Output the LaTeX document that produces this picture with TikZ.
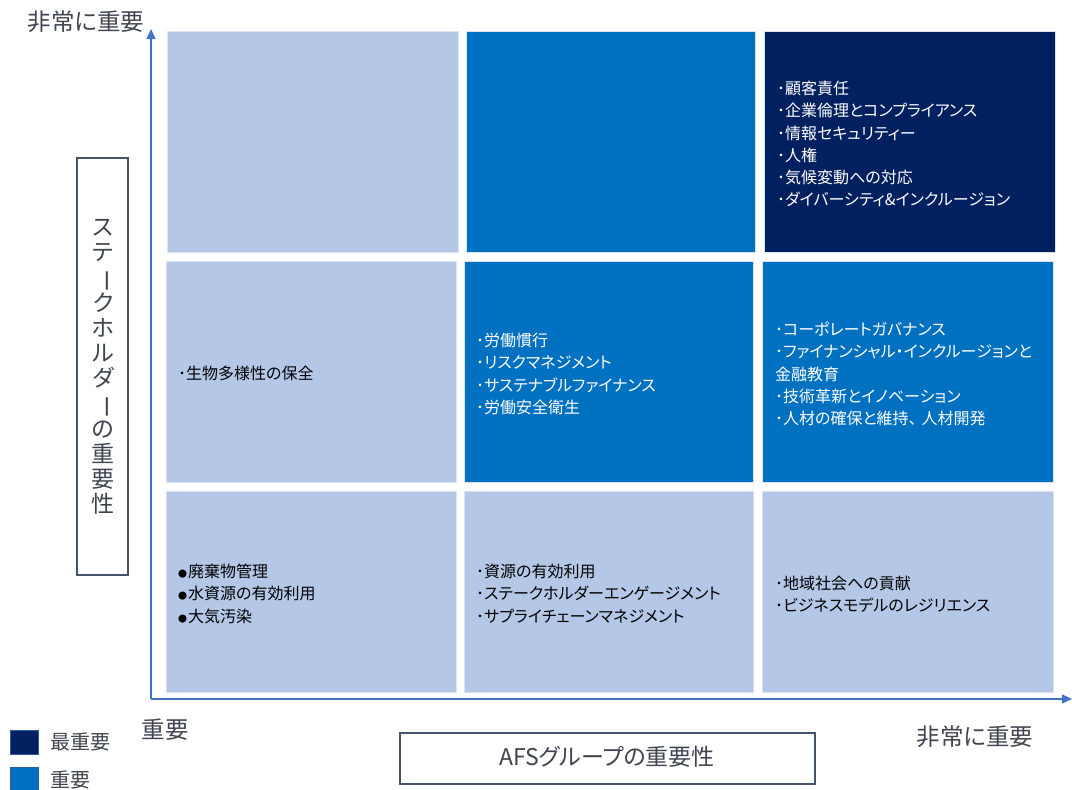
\documentclass[tikz,border=0pt]{standalone}
\usepackage{fontspec}
\setmainfont{Noto Sans CJK JP}[RawFeature=+palt]
\usetikzlibrary{arrows.meta}
\definecolor{lightc}{HTML}{B4C7E7}
\definecolor{midc}{HTML}{0070C0}
\definecolor{darkc}{HTML}{002060}
\definecolor{axisc}{HTML}{4472C4}
\definecolor{txtc}{HTML}{3F4450}
\definecolor{framec}{HTML}{44546A}
\definecolor{edgec}{HTML}{DAE3F3}
\newcommand{\bigdot}{{\fontsize{9}{9}\selectfont ●}\hspace{1pt}}
\begin{document}
\begin{tikzpicture}[x=1pt,y=-1pt,
  cell/.style={anchor=north west, inner sep=0pt, draw=edgec, line width=0.8pt},
  celltext/.style={anchor=north west, inner sep=0pt, align=left, font=\fontsize{16}{22.2}\selectfont},
  axisline/.style={draw=axisc, line width=1.3pt, -{Triangle[length=10pt,width=9pt]}},
  label/.style={inner sep=0pt, text=txtc, font=\fontsize{23.5}{25}\selectfont},
  framebox/.style={draw=framec, line width=1.3pt, inner sep=0pt}
]
\useasboundingbox (0,0) rectangle (1072,790);
\fill[white] (0,0) rectangle (1072,790);

% cells
\node[cell, fill=lightc, minimum width=291pt, minimum height=221pt] (c11) at (167,31) {};
\node[cell, fill=midc,   minimum width=289pt, minimum height=221pt] (c12) at (466,31) {};
\node[cell, fill=darkc,  minimum width=291pt, minimum height=221pt] (c13) at (764,31) {};
\node[cell, fill=lightc, minimum width=290pt, minimum height=221pt] (c21) at (166,261) {};
\node[cell, fill=midc,   minimum width=289pt, minimum height=221pt] (c22) at (464,261) {};
\node[cell, fill=midc,   minimum width=291pt, minimum height=221pt] (c23) at (762,261) {};
\node[cell, fill=lightc, minimum width=290pt, minimum height=201pt] (c31) at (166,491) {};
\node[cell, fill=lightc, minimum width=289pt, minimum height=201pt] (c32) at (464,491) {};
\node[cell, fill=lightc, minimum width=291pt, minimum height=201pt] (c33) at (762,491) {};

% cell texts
\node[celltext, text=white] (t13) at (777,81) {･顧客責任\\･企業倫理とコンプライアンス\\･情報セキュリティー\\･人権\\･気候変動への対応\\･ダイバーシティ\&インクルージョン};
\node[celltext, text=black] (t21) at (178,366) {･生物多様性の保全};
\node[celltext, text=white] (t22) at (476,333) {･労働慣行\\･リスクマネジメント\\･サステナブルファイナンス\\･労働安全衛生};
\node[celltext, text=white] (t23) at (775,322) {･コーポレートガバナンス\\･ファイナンシャル・インクルージョンと\\金融教育\\･技術革新とイノベーション\\･人材の確保と維持、\hspace{5pt}人材開発};
\node[celltext, text=black] (t31) at (178,564) {\bigdot 廃棄物管理\\\bigdot 水資源の有効利用\\\bigdot 大気汚染};
\node[celltext, text=black] (t32) at (476,564) {･資源の有効利用\\･ステークホルダーエンゲージメント\\･サプライチェーンマネジメント};
\node[celltext, text=black] (t33) at (775,576) {･地域社会への貢献\\･ビジネスモデルのレジリエンス};

% axes
\coordinate (o) at (151,699);
\coordinate (ytip) at (151,29);
\coordinate (xtip) at (1072,699);
\draw[axisline] (o) -- (ytip);
\draw[axisline] (o) -- (xtip);

% axis labels
\node[label] (ytop) at (86,22) {非常に重要};
\node[label] (xlow) at (165,730) {重要};
\node[label] (xhigh) at (975,737) {非常に重要};

% vertical axis title
\node[framebox, minimum width=51pt, minimum height=417pt] (ybox) at (102.5,366.5) {};
\node[inner sep=0pt, text=txtc, align=center, font=\fontsize{23}{25.2}\selectfont] (ytitle) at (103,367)
  {ス\\テ\\\rotatebox[origin=c]{-90}{ー}\\ク\\ホ\\ル\\ダ\\\rotatebox[origin=c]{-90}{ー}\\の\\重\\要\\性};

% horizontal axis title
\node[framebox, minimum width=415pt, minimum height=51pt] (xbox) at (607.5,758.5) {};
\node[inner sep=0pt, text=txtc, font=\fontsize{23}{25}\selectfont] (xtitle) at (607,757) {AFSグループの重要性};

% legend
\node[anchor=north west, fill=darkc, draw=axisc!70!darkc, line width=0.8pt, minimum width=28pt, minimum height=24pt, inner sep=0pt] (lg1) at (10,730) {};
\node[anchor=north west, fill=midc, draw=axisc!70!darkc, line width=0.8pt, minimum width=28pt, minimum height=24pt, inner sep=0pt] (lg2) at (10,767) {};
\node[anchor=west, inner sep=0pt, text=txtc, font=\fontsize{20}{22}\selectfont] (lt1) at (50,742) {最重要};
\node[anchor=west, inner sep=0pt, text=txtc, font=\fontsize{20}{22}\selectfont] (lt2) at (50,780) {重要};
\end{tikzpicture}
\end{document}
